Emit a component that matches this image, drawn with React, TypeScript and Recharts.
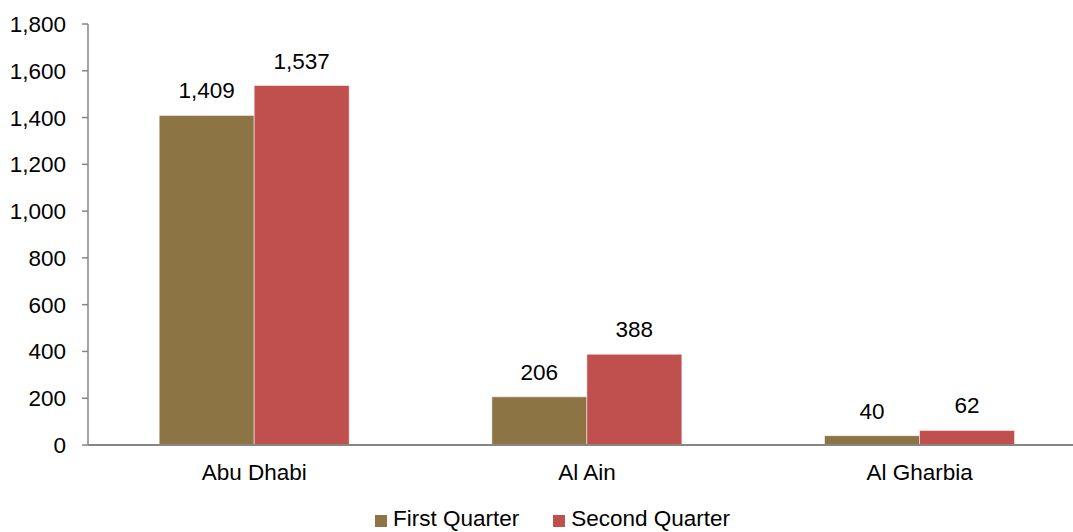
import React from "react";
import { BarChart, Bar, XAxis, YAxis, Legend, LabelList } from "recharts";

const categories = ["Abu Dhabi", "Al Ain", "Al Gharbia"];
const firstQuarter = [1409, 206, 40];
const secondQuarter = [1537, 388, 62];
const yTicks = [0, 200, 400, 600, 800, 1000, 1200, 1400, 1600, 1800];
const seriesNames = ["First Quarter", "Second Quarter"];
const seriesColors = ["#8C7444", "#C0504D"];

const data = categories.map((c, i) => ({
  name: c,
  q1: firstQuarter[i],
  q2: secondQuarter[i],
}));

const fmt = (v: any) => Number(v).toLocaleString("en-US");
const FONT = '"Liberation Sans", Arial, sans-serif';
const FS = 22.5;

const LegendContent = () => (
  <div
    style={{
      height: 30,
      display: "flex",
      justifyContent: "center",
      alignItems: "flex-start",
      paddingLeft: 19,
      fontFamily: FONT,
      fontSize: FS,
      color: "#000",
    }}
  >
    {seriesNames.map((n, i) => (
      <div
        key={n}
        style={{
          display: "flex",
          alignItems: "center",
          marginRight: i === 0 ? 34 : 0,
          paddingTop: 5,
          lineHeight: "24px",
        }}
      >
        <span
          style={{
            display: "inline-block",
            width: 12,
            height: 12,
            background: seriesColors[i],
            marginRight: 6,
            marginTop: 3,
          }}
        />
        <span>{n}</span>
      </div>
    ))}
  </div>
);

export default function App() {
  return (
    <div
      style={{
        position: "absolute",
        left: 0,
        top: 0,
        width: 1073,
        height: 532,
        overflow: "hidden",
        background: "#fff",
      }}
    >
      <BarChart
        width={1090}
        height={532}
        data={data}
        margin={{ top: 24, right: 4, left: 0, bottom: 0 }}
        barCategoryGap="21.4%"
        barGap={0}
        style={{ fontFamily: FONT }}
      >
        <YAxis
          width={88}
          domain={[0, 1800]}
          ticks={yTicks}
          interval={0}
          tickFormatter={fmt}
          axisLine={{ stroke: "#868686", strokeWidth: 1.5 }}
          tickLine={{ stroke: "#868686", strokeWidth: 1.5 }}
          tickSize={6}
          tickMargin={16}
          tick={{ fill: "#000", fontSize: FS, fontFamily: FONT }}
        />
        <XAxis
          dataKey="name"
          height={57}
          axisLine={{ stroke: "#868686", strokeWidth: 2 }}
          tickLine={false}
          tickSize={0}
          tickMargin={19}
          tick={{ fill: "#000", fontSize: FS, fontFamily: FONT }}
        />
        <Legend verticalAlign="bottom" height={30} content={<LegendContent />} />
        <Bar
          dataKey="q1"
          name={seriesNames[0]}
          fill={seriesColors[0]}
          stroke="#ffffff"
          strokeOpacity={0.5}
          strokeWidth={1}
          isAnimationActive={false}
        >
          <LabelList
            dataKey="q1"
            position="top"
            offset={17}
            formatter={fmt}
            style={{ fill: "#000", fontSize: FS, fontFamily: FONT }}
          />
        </Bar>
        <Bar
          dataKey="q2"
          name={seriesNames[1]}
          fill={seriesColors[1]}
          stroke="#ffffff"
          strokeOpacity={0.5}
          strokeWidth={1}
          isAnimationActive={false}
        >
          <LabelList
            dataKey="q2"
            position="top"
            offset={17}
            formatter={fmt}
            style={{ fill: "#000", fontSize: FS, fontFamily: FONT }}
          />
        </Bar>
      </BarChart>
    </div>
  );
}
